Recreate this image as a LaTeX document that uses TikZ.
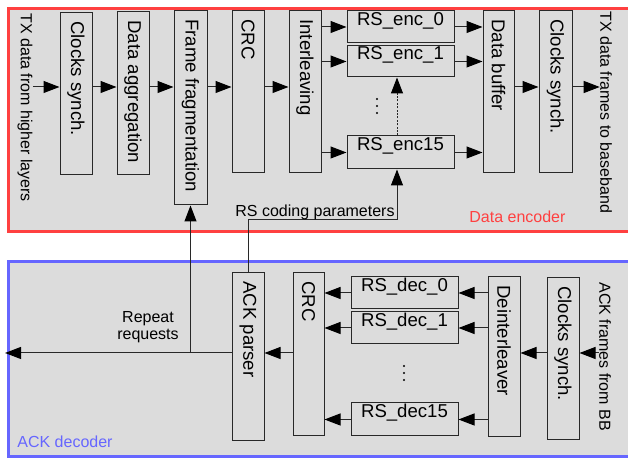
\documentclass[tikz,border=0pt]{standalone}
\usepackage{fontspec}
\setmainfont{Liberation Sans}
\usepackage{tikz}
\usetikzlibrary{positioning,calc,fit,arrows.meta}
\definecolor{encred}{RGB}{255,64,64}
\definecolor{decblue}{RGB}{102,102,255}
\definecolor{panelgray}{RGB}{220,220,220}
\definecolor{lineclr}{RGB}{40,40,40}

\begin{document}
\begin{tikzpicture}[x=0.5pt,y=-0.5pt,
    blk/.style={draw=lineclr,line width=0.5pt,inner sep=0pt,font=\fontsize{9.3}{11}\selectfont},
    vtxt/.style={rotate=-90,anchor=west,inner sep=0pt,inner xsep=4.25pt,font=\fontsize{9.3}{11}\selectfont},
    side/.style={rotate=-90,anchor=west,inner sep=0pt,font=\fontsize{8}{9}\selectfont},
    lbl/.style={inner sep=0pt,font=\fontsize{8}{8.5}\selectfont},
    arr/.style={draw=lineclr,line width=0.5pt,-{Triangle[length=8pt,width=6pt,color=black]}}]
    \useasboundingbox (0,0) rectangle (628,458);

    % frames
    \draw[encred,line width=1.5pt,fill=panelgray] (8.5,8.5) rectangle (650,231.5);
    \draw[decblue,line width=1.5pt,fill=panelgray] (8.5,261.5) rectangle (650,456.5);
    \node[lbl,text=encred,anchor=base west] (enclbl) at (469,223) {Data encoder};
    \node[lbl,text=decblue,anchor=base west] (declbl) at (17,448) {ACK decoder};
    \coordinate (encrow) at (0,87); \coordinate (decrow) at (0,353);

    % data encoder
    \node[side] (txin) at (25,13) {TX data from higher layers};
    \node[blk,fit={(60,13) (92,175)}] (sync1) {}; \node[vtxt] at (sync1.north) {Clocks synch.};
    \node[blk,fit={(117,12) (149,175)}] (aggr) {}; \node[vtxt] at (aggr.north) {Data aggregation};
    \node[blk,fit={(174,11) (207,205)}] (frag) {}; \node[vtxt] at (frag.north) {Frame fragmentation};
    \node[blk,fit={(232,11) (264,173)}] (crc1) {}; \node[vtxt] at (crc1.north) {CRC};
    \node[blk,fit={(289,11) (321,173)}] (intl) {}; \node[vtxt] at (intl.north) {Interleaving};
    \node[blk,fit={(347,11) (454,43)}] (enc0) {RS\_enc\_0};
    \node[blk,fit={(347,46) (454,77)}] (enc1) {RS\_enc\_1};
    \node[blk,fit={(347,136) (454,169)}] (enc15) {RS\_enc15};
    \fill (377,99) circle (0.6pt) (377,106) circle (0.6pt) (377,113) circle (0.6pt);
    \node[blk,fit={(483,11) (514,173)}] (buf) {}; \node[vtxt] at (buf.north) {Data buffer};
    \node[blk,fit={(539,11) (572,173)}] (sync2) {}; \node[vtxt] at (sync2.north) {Clocks synch.};
    \node[side] (txout) at (606,11) {TX data frames to baseband};

    \draw[arr] (txin.north |- encrow) -- (sync1.west |- encrow);
    \draw[arr] (sync1.east |- encrow) -- (aggr.west |- encrow);
    \draw[arr] (aggr.east |- encrow) -- (frag.west |- encrow);
    \draw[arr] (frag.east |- encrow) -- (crc1.west |- encrow);
    \draw[arr] (crc1.east |- encrow) -- (intl.west |- encrow);
    \draw[arr] (intl.east |- enc0) -- (enc0.west);
    \draw[arr] (intl.east |- enc1) -- (enc1.west);
    \draw[arr] (intl.east |- enc15) -- (enc15.west);
    \draw[arr] (enc0.east) -- (buf.west |- enc0);
    \draw[arr] (enc1.east) -- (buf.west |- enc1);
    \draw[arr] (enc15.east) -- (buf.west |- enc15);
    \draw[arr] (buf.east |- encrow) -- (sync2.west |- encrow);
    \draw[arr] (sync2.east |- encrow) -- (txout.south |- encrow);

    % ACK decoder
    \node[blk,fit={(232,273) (264,441)}] (ackp) {}; \node[vtxt] at (ackp.north) {ACK parser};
    \node[blk,fit={(293,273) (324,436)}] (crc2) {}; \node[vtxt] at (crc2.north) {CRC};
    \node[blk,fit={(351,277) (458,309)}] (dec0) {RS\_dec\_0};
    \node[blk,fit={(351,312) (458,344)}] (dec1) {RS\_dec\_1};
    \node[blk,fit={(351,403) (458,436)}] (dec15) {RS\_dec15};
    \fill (404,366) circle (0.6pt) (404,373) circle (0.6pt) (404,380) circle (0.6pt);
    \node[blk,fit={(488,277) (520,437)}] (deint) {}; \node[vtxt] at (deint.north) {Deinterleaver};
    \node[blk,fit={(547,278) (579,440)}] (sync3) {}; \node[vtxt] at (sync3.north) {Clocks synch.};
    \node[side] (ackin) at (605,282) {ACK frames from BB};
    \coordinate (rqout) at (5,353);

    \draw[arr] (ackin.south |- decrow) -- (sync3.east |- decrow);
    \draw[arr] (sync3.west |- decrow) -- (deint.east |- decrow);
    \draw[arr] (deint.west |- dec0) -- (dec0.east);
    \draw[arr] (deint.west |- dec1) -- (dec1.east);
    \draw[arr] (deint.west |- dec15) -- (dec15.east);
    \draw[arr] (dec0.west) -- (crc2.east |- dec0);
    \draw[arr] (dec1.west) -- (crc2.east |- dec1);
    \draw[arr] (dec15.west) -- (crc2.east |- dec15);
    \draw[arr] (crc2.west |- decrow) -- (ackp.east |- decrow);
    \draw[arr] (ackp.west |- decrow) -- (rqout);
    \node[lbl,align=center,anchor=north] (rqlbl) at (148,311.5) {Repeat\\requests};

    % between the two
    \draw[arr] (frag.south |- decrow) -- (frag.south);
    \coordinate (parm) at (397,220);
    \draw[arr] (ackp.north) |- (parm) -- (enc15.south -| parm);
    \draw[arr,dash pattern=on 1pt off 0.7pt] (enc15.north -| parm) -- (enc1.south -| parm);
    \node[lbl,anchor=base west] (parmlbl) at (235,217) {RS coding parameters};
\end{tikzpicture}
\end{document}
